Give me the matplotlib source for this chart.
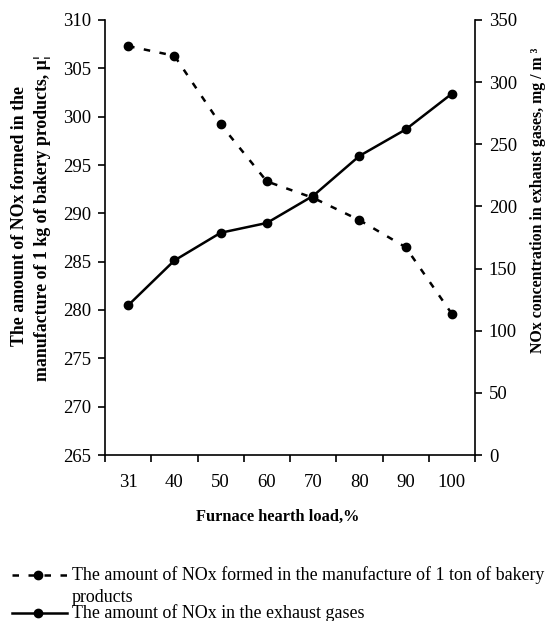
import matplotlib
matplotlib.use("Agg")
import matplotlib.pyplot as plt
from matplotlib.lines import Line2D

plt.rcParams['font.family'] = ['Liberation Serif', 'DejaVu Serif']

categories = ["31", "40", "50", "60", "70", "80", "90", "100"]
nox_per_product = [307.3, 306.3, 299.2, 293.3, 291.6, 289.3, 286.5, 279.6]
nox_exhaust = [120.4, 156.5, 178.8, 186.7, 208.5, 240.6, 261.9, 290.7]
left_ticks = [265, 270, 275, 280, 285, 290, 295, 300, 305, 310]
right_ticks = [0, 50, 100, 150, 200, 250, 300, 350]

W, H = 548, 621
fig = plt.figure(figsize=(W / 100, H / 100), dpi=100)
ax = fig.add_axes([105 / W, 1 - 455 / H, (475 - 105) / W, (455 - 20) / H])
ax2 = ax.twinx()

x = list(range(1, len(categories) + 1))
dash = (0, (2.6, 3.8))
ax.plot(x, nox_per_product, color='black', lw=1.8, linestyle=dash,
        marker='o', markersize=6, zorder=3)
ax2.plot(x, nox_exhaust, color='black', lw=1.8, linestyle='-',
         marker='o', markersize=6, zorder=3)

ax.set_xlim(0.5, len(categories) + 0.5)
ax.set_ylim(265, 310)
ax2.set_ylim(0, 350)
ax.set_yticks(left_ticks)
ax2.set_yticks(right_ticks)

# category axis: ticks between categories, labels at centres
ax.set_xticks([i + 0.5 for i in range(0, len(categories) + 1)])
ax.set_xticklabels([])
ax.set_xticks(x, minor=True)
ax.set_xticklabels(categories, minor=True)
ax.tick_params(axis='x', which='major', direction='out', length=5, width=1.2)
ax.tick_params(axis='x', which='minor', length=0, pad=14, labelsize=13.5)
ax.tick_params(axis='y', direction='out', length=5, width=1.2, pad=5, labelsize=13.5)
ax2.tick_params(axis='y', direction='out', length=5, width=1.2, pad=5, labelsize=13.5)

for a in (ax, ax2):
    a.spines['top'].set_visible(False)
    for s in ('left', 'right', 'bottom'):
        a.spines[s].set_linewidth(1.2)
ax.spines['right'].set_visible(False)
ax2.spines['left'].set_visible(False)
ax2.spines['bottom'].set_visible(False)

# axis titles
fig.text(20 / W, 1 - 216 / H, "The amount of NOx formed in the",
         rotation=90, ha='center', va='center', fontsize=12.8, fontweight='bold')
fig.text(43 / W, 1 - 218 / H, "manufacture of 1 kg of bakery products, µ¦",
         rotation=90, ha='center', va='center', fontsize=12.8, fontweight='bold')
fig.text(538 / W, 1 - 200 / H, "NOx concentration in exhaust gases, mg / m ³",
         rotation=90, ha='center', va='center', fontsize=11.4, fontweight='bold')
fig.text(278 / W, 1 - 517 / H, "Furnace hearth load,%",
         ha='center', va='center', fontsize=11.8, fontweight='bold')

# legend (drawn manually)
y1 = 1 - 575 / H
y2 = 1 - 613 / H
fig.add_artist(Line2D([12 / W, 67 / W], [y1, y1], transform=fig.transFigure,
                      color='black', lw=1.8, linestyle=dash))
fig.add_artist(Line2D([38 / W], [y1], transform=fig.transFigure,
                      color='black', marker='o', markersize=6, linestyle='none'))
fig.add_artist(Line2D([12 / W, 67 / W], [y2, y2], transform=fig.transFigure,
                      color='black', lw=1.8, linestyle='-'))
fig.add_artist(Line2D([38 / W], [y2], transform=fig.transFigure,
                      color='black', marker='o', markersize=6, linestyle='none'))
fig.text(72 / W, y1, "The amount of NOx formed in the manufacture of 1 ton of bakery",
         ha='left', va='center', fontsize=12.9)
fig.text(72 / W, 1 - 597 / H, "products", ha='left', va='center', fontsize=12.9)
fig.text(72 / W, y2, "The amount of NOx in the exhaust gases",
         ha='left', va='center', fontsize=12.9)

fig.savefig("out.png", dpi=100)
